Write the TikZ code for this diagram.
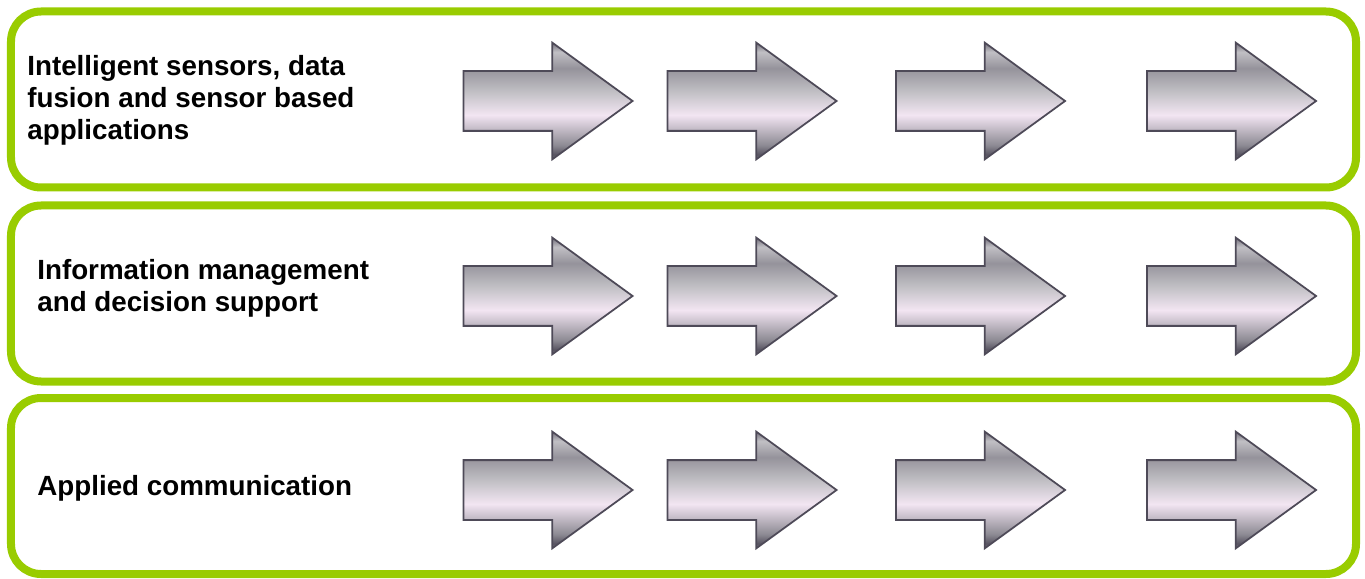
\documentclass[tikz,border=0pt]{standalone}
\usepackage{fontspec}
\setmainfont{Liberation Sans}
\definecolor{framegreen}{RGB}{153,204,0}
\definecolor{metaledge}{RGB}{78,74,88}
\usetikzlibrary{shapes.arrows}
\pgfdeclareverticalshading{metal}{100bp}{%
  color(0bp)=(metaledge!95!black);
  color(14bp)=(metaledge!70!white);
  color(24bp)=(metaledge!60!white);
  color(27bp)=(metaledge!95!white);
  color(31bp)=(metaledge!65!white);
  color(44bp)=(white!90!violet);
  color(54bp)=(metaledge!35!white);
  color(64bp)=(metaledge!60!white);
  color(71bp)=(metaledge!35!white);
  color(75bp)=(metaledge!80!white);
  color(86bp)=(metaledge!55!white);
  color(100bp)=(metaledge!90!white)}

\begin{document}
\begin{tikzpicture}[
    rowbox/.style={draw=framegreen,line width=0.16cm,rounded corners=0.6cm,
                   fill=white,minimum width=26.9cm,minimum height=3.52cm},
    rowlabel/.style={anchor=west,align=left,inner sep=0pt,
                     font=\fontsize{15.8}{18.2}\selectfont\bfseries},
    metalarrow/.style={single arrow,shading=metal,draw=metaledge,line width=1pt,
                       inner xsep=0pt,inner ysep=0.58cm,minimum height=3.38cm,
                       single arrow head extend=0.57cm,single arrow tip angle=72}]
  \useasboundingbox (0,0) rectangle (27.3,-11.58);
  % frames
  \node[rowbox] (r1) at (13.67,-1.99) {};
  \node[rowbox] (r2) at (13.67,-5.87) {};
  \node[rowbox] (r3) at (13.67,-9.72) {};
  % labels
  \node[rowlabel] (l1) at (0.54,-2.0) {Intelligent sensors, data\\fusion and sensor based\\applications};
  \node[rowlabel] (l2) at (0.74,-5.76) {Information management\\and decision support};
  \node[rowlabel] (l3) at (0.74,-9.76) {Applied communication};
  % arrows, row 1
  \node[metalarrow] (a11) at (10.55,-2.02) {};
  \node[metalarrow] (a12) at (14.63,-2.02) {};
  \node[metalarrow] (a13) at (19.20,-2.02) {};
  \node[metalarrow] (a14) at (24.22,-2.02) {};
  % arrows, row 2
  \node[metalarrow] (a21) at (10.55,-5.92) {};
  \node[metalarrow] (a22) at (14.63,-5.92) {};
  \node[metalarrow] (a23) at (19.20,-5.92) {};
  \node[metalarrow] (a24) at (24.22,-5.92) {};
  % arrows, row 3
  \node[metalarrow] (a31) at (10.55,-9.80) {};
  \node[metalarrow] (a32) at (14.63,-9.80) {};
  \node[metalarrow] (a33) at (19.20,-9.80) {};
  \node[metalarrow] (a34) at (24.22,-9.80) {};
\end{tikzpicture}
\end{document}
